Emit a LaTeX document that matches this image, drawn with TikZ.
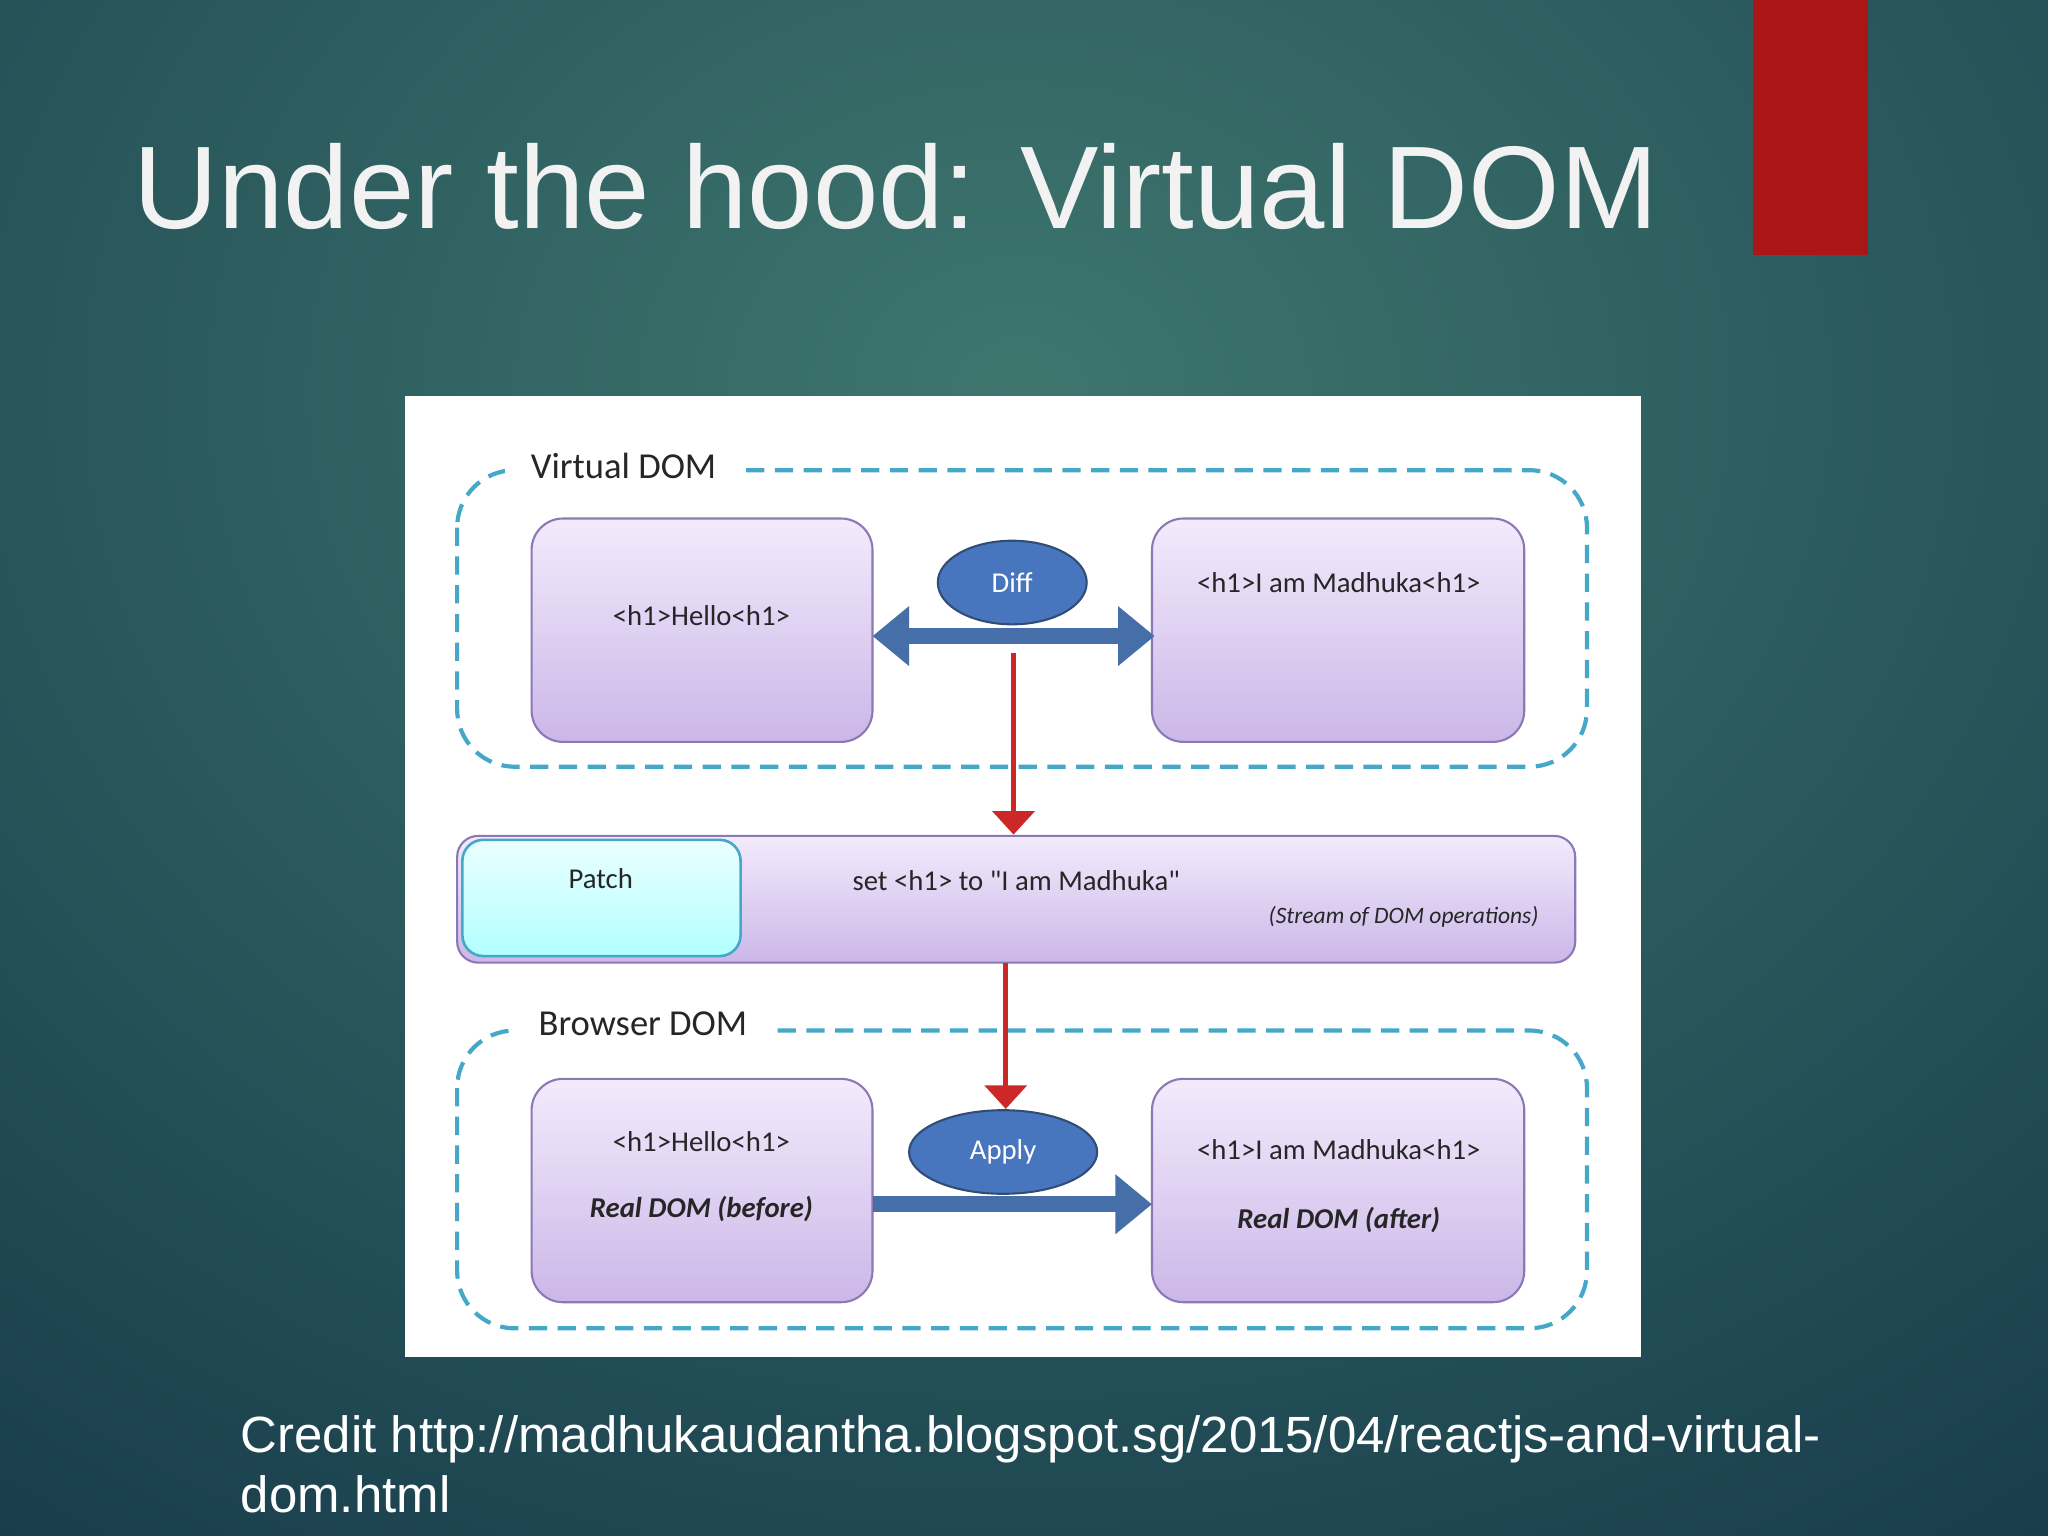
\documentclass[tikz,border=0pt]{standalone}
\usepackage{fontspec}
\setmainfont{Liberation Sans}
\newfontfamily\carl{Carlito}
\usetikzlibrary{arrows.meta,shapes.geometric}
\definecolor{bgdark}{RGB}{20,55,72}
\definecolor{bglight}{RGB}{62,118,110}
\definecolor{redbar}{RGB}{170,22,22}
\definecolor{dashc}{RGB}{70,168,200}
\definecolor{boxtop}{RGB}{243,235,252}
\definecolor{boxbot}{RGB}{203,183,232}
\definecolor{boxline}{RGB}{140,120,180}
\definecolor{ellc}{RGB}{72,118,190}
\definecolor{arrb}{RGB}{70,110,168}
\definecolor{arrr}{RGB}{205,40,40}
\tikzset{
 x=0.5pt,y=-0.5pt,
 pbox/.style={draw=boxline,line width=0.8pt,rounded corners=12pt,top color=boxtop,bottom color=boxbot},
 grp/.style={draw=dashc,line width=1.6pt,dash pattern=on 7pt off 4pt,rounded corners=22pt},
 ell/.style={ellipse,draw=arrb!70!black,line width=0.8pt,fill=ellc,text=white,font=\carl\fontsize{11}{13}\selectfont,inner sep=0pt},
 txt/.style={font=\carl\fontsize{11}{13}\selectfont,text=black!85},
 grplab/.style={fill=white,font=\carl\fontsize{14}{16}\selectfont,text=black!85,inner xsep=8pt},
 barr/.style={arrb,line width=6pt,-{Triangle[length=14pt,width=22pt]}},
 rarr/.style={arrr,line width=1.8pt,-{Triangle[length=9pt,width=16pt]}}
}
\begin{document}
\begin{tikzpicture}
\useasboundingbox (0,0) rectangle (1568,1176);
\begin{scope}
\clip (0,0) rectangle (1568,1176);
\shade[inner color=bglight,outer color=bgdark] (-700,-900) rectangle (2260,1500);
\end{scope}
\fill[redbar] (1342,0) rectangle (1430,195);
\node[anchor=base west,text=white!95!black,font=\fontsize{45}{54}\selectfont,inner sep=0pt] (title) at (102,175) {Under the hood: Virtual DOM};
\fill[white] (310,303) rectangle (1256,1039);
% groups
\draw[grp] (350,360) rectangle (1215,587);
\node[grplab,anchor=west,inner xsep=10pt] (vlab) at (386,357) {Virtual DOM\hspace{8pt}};
\draw[grp] (350,789) rectangle (1215,1017);
\node[grplab,anchor=west,inner xsep=10pt] (blab) at (392,784) {Browser DOM\hspace{8pt}};
% boxes
\draw[pbox] (407,397) rectangle (668,568);
\node[txt] (b1) at (537,471) {<h1>Hello<h1>};
\draw[pbox] (882,397) rectangle (1167,568);
\node[txt] (b2) at (1025,446) {<h1>I am Madhuka<h1>};
\draw[pbox] (407,826) rectangle (668,997);
\node[txt] (b3) at (537,874) {<h1>Hello<h1>};
\node[txt,font=\carl\bfseries\itshape\fontsize{11}{13}\selectfont] (b3b) at (537,926) {Real DOM (before)};
\draw[pbox] (882,826) rectangle (1167,997);
\node[txt] (b4) at (1025,880) {<h1>I am Madhuka<h1>};
\node[txt,font=\carl\bfseries\itshape\fontsize{11}{13}\selectfont] (b4b) at (1025,934) {Real DOM (after)};
% patch bar
\draw[pbox,rounded corners=8pt] (350,640) rectangle (1206,737);
\draw[draw=dashc,line width=1pt,rounded corners=8pt,top color=cyan!8,bottom color=cyan!30] (354,643) rectangle (567,732);
\node[txt] (patch) at (460,673) {Patch};
\node[txt] (set) at (778,674) {set <h1> to "I am Madhuka"};
\node[txt,font=\carl\itshape\fontsize{9}{11}\selectfont,anchor=east] (stream) at (1185,702) {(Stream of DOM operations)};
% arrows
\coordinate (dl) at (668,487); \coordinate (dr) at (884,487);
\draw[barr,{Triangle[length=14pt,width=22pt]}-{Triangle[length=14pt,width=22pt]}] (dl) -- (dr);
\coordinate (r1s) at (776,500); \coordinate (r1e) at (776,639);
\draw[rarr] (r1s) -- (r1e);
\coordinate (r2s) at (770,737); \coordinate (r2e) at (770,849);
\draw[rarr] (r2s) -- (r2e);
\coordinate (al) at (668,922); \coordinate (ar) at (882,922);
\draw[barr] (al) -- (ar);
\node[ell,minimum width=57pt,minimum height=32pt] (diff) at (775,446) {Diff};
\node[ell,minimum width=72pt,minimum height=32pt] (apply) at (768,882) {Apply};
% credit
\node[anchor=base west,text=white,font=\fontsize{19.5}{23}\selectfont,inner sep=0pt] (c1) at (184,1112) {Credit http://madhukaudantha.blogspot.sg/2015/04/reactjs-and-virtual-};
\node[anchor=base west,text=white,font=\fontsize{19.5}{23}\selectfont,inner sep=0pt] (c2) at (184,1158) {dom.html};
\end{tikzpicture}
\end{document}
